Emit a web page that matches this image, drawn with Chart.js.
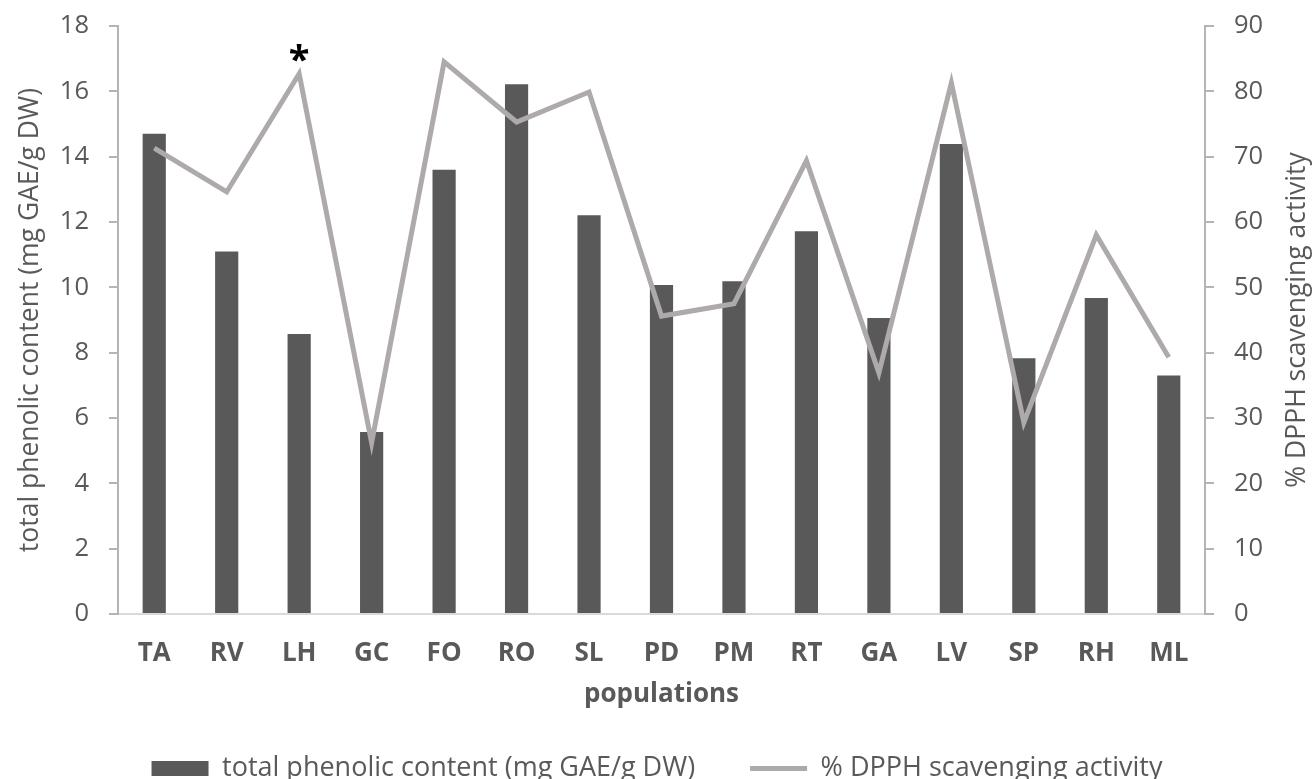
<!DOCTYPE html>
<html lang="en">
<head>
    <meta charset="UTF-8">
    <title>Phenolic content and DPPH scavenging activity</title>
    <script src="https://cdn.jsdelivr.net/npm/chart.js"></script>
    <style>
        body, html {
            margin: 0;
            background-color: #fff;
        }
        #wrap { width: 1314px; height: 779px; }
    </style>
</head>
<body>
    <div id="wrap">
        <canvas id="chart" width="1314" height="779"></canvas>
    </div>

    <script>
        // populations
        var populations = ['TA', 'RV', 'LH', 'GC', 'FO', 'RO', 'SL', 'PD', 'PM', 'RT', 'GA', 'LV', 'SP', 'RH', 'ML'];
        // total phenolic content (mg GAE/g DW), left axis
        var phenolic = [14.7, 11.1, 8.57, 5.57, 13.6, 16.22, 12.21, 10.07, 10.19, 11.72, 9.06, 14.39, 7.83, 9.67, 7.3];
        // % DPPH scavenging activity, right axis
        var dpph = [71.3, 64.6, 82.7, 26.2, 84.5, 75.3, 79.9, 45.6, 47.5, 69.4, 36.9, 81.3, 29.3, 58.0, 39.3];
        // population flagged with an asterisk
        var starIndex = 2;

        var textColor = '#595959';
        var fontFamily = '"Open Sans", sans-serif';
        var rightTitle = '% DPPH scavenging activity';

        // * above the flagged point, and the right axis title (read bottom to top like the left one)
        var extrasPlugin = {
            id: 'extras',
            afterDraw: function(chart) {
                var ctx = chart.ctx;
                var area = chart.chartArea;
                var x = chart.scales.x.getPixelForValue(starIndex);
                var y = chart.scales.y2.getPixelForValue(dpph[starIndex]);
                ctx.save();
                ctx.fillStyle = '#000';
                ctx.font = 'bold 38px ' + fontFamily;
                ctx.textAlign = 'center';
                ctx.textBaseline = 'alphabetic';
                ctx.fillText('*', x, y - 1);

                ctx.translate(1297, (area.top + area.bottom) / 2);
                ctx.rotate(-Math.PI / 2);
                ctx.fillStyle = textColor;
                ctx.font = '26.5px ' + fontFamily;
                ctx.textBaseline = 'middle';
                ctx.fillText(rightTitle, 0, 0);
                ctx.restore();
            }
        };

        var ctx = document.getElementById('chart').getContext('2d');
        new Chart(ctx, {
            type: 'bar',
            data: {
                labels: populations,
                datasets: [
                    {
                        type: 'bar',
                        label: 'total phenolic content (mg GAE/g DW)',
                        data: phenolic,
                        backgroundColor: '#595959',
                        yAxisID: 'y',
                        order: 1,
                        categoryPercentage: 1,
                        barPercentage: 0.32
                    },
                    {
                        type: 'line',
                        label: rightTitle,
                        data: dpph,
                        borderColor: '#aeaaaa',
                        backgroundColor: '#aeaaaa',
                        borderWidth: 5,
                        pointRadius: 0,
                        tension: 0,
                        yAxisID: 'y2',
                        order: 0
                    }
                ]
            },
            options: {
                responsive: false,
                animation: false,
                layout: { padding: { top: 26, left: 0, right: 0, bottom: -13 } },
                plugins: {
                    tooltip: { enabled: false },
                    legend: {
                        position: 'bottom',
                        labels: {
                            color: textColor,
                            font: { family: fontFamily, size: 27 },
                            usePointStyle: true,
                            pointStyleWidth: 57,
                            boxHeight: 15,
                            padding: 55,
                            sort: function(a, b) { return a.datasetIndex - b.datasetIndex; },
                            generateLabels: function(chart) {
                                var items = Chart.defaults.plugins.legend.labels.generateLabels(chart);
                                items.forEach(function(item) {
                                    var ds = chart.data.datasets[item.datasetIndex];
                                    if (ds.type === 'line') {
                                        item.pointStyle = 'line';
                                        item.lineWidth = 5;
                                        item.strokeStyle = ds.borderColor;
                                    } else {
                                        item.pointStyle = 'rect';
                                        item.lineWidth = 0;
                                    }
                                });
                                return items;
                            }
                        }
                    }
                },
                scales: {
                    x: {
                        grid: { display: false, drawTicks: false },
                        border: { color: '#d9d9d9', width: 2 },
                        ticks: {
                            color: textColor,
                            padding: 24,
                            font: { family: fontFamily, size: 26, weight: 'bold' }
                        },
                        title: {
                            display: true,
                            text: 'populations',
                            color: textColor,
                            font: { family: fontFamily, size: 26, weight: 'bold' },
                            padding: { top: 0, bottom: -10.5 }
                        },
                        afterFit: function(scale) { scale.height = 86; }
                    },
                    y: {
                        position: 'left',
                        min: 0,
                        max: 18,
                        ticks: {
                            stepSize: 2,
                            color: textColor,
                            padding: 20,
                            font: { family: fontFamily, size: 25.5 }
                        },
                        grid: { drawOnChartArea: false, tickLength: 9, color: '#b4b4b4', lineWidth: 2 },
                        border: { color: '#b4b4b4', width: 2 },
                        title: {
                            display: true,
                            text: 'total phenolic content (mg GAE/g DW)',
                            color: textColor,
                            font: { family: fontFamily, size: 26.5 },
                            padding: { top: 15, bottom: 0 }
                        },
                        afterFit: function(scale) {
                            scale.width = 118;
                            scale.paddingTop = 0;
                            scale.paddingBottom = 0;
                        }
                    },
                    y2: {
                        position: 'right',
                        min: 0,
                        max: 90,
                        ticks: {
                            stepSize: 10,
                            color: textColor,
                            padding: 20,
                            font: { family: fontFamily, size: 25.5 }
                        },
                        grid: { drawOnChartArea: false, tickLength: 9, color: '#b4b4b4', lineWidth: 2 },
                        border: { color: '#b4b4b4', width: 2 },
                        afterFit: function(scale) {
                            scale.width = 109;
                            scale.paddingTop = 0;
                            scale.paddingBottom = 0;
                        }
                    }
                }
            },
            plugins: [extrasPlugin]
        });
    </script>
</body>
</html>
